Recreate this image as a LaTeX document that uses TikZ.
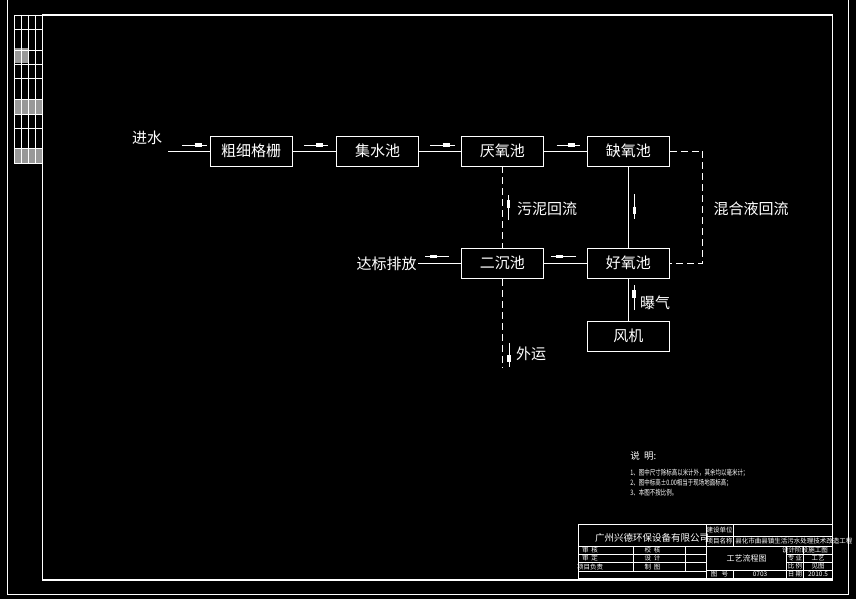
\documentclass[tikz,border=0pt]{standalone}
\usepackage{fontspec}
\setmainfont{Noto Sans CJK SC}
\usetikzlibrary{calc}
\newcommand\fmark[2]{\draw (#1) -- (#2); \draw[line width=3.4pt] ($(#1)!0.5!(#2)$) -- ($(#1)!0.8!(#2)$);}
\begin{document}
\begin{tikzpicture}[x=1pt,y=-1pt, line width=0.9pt, white,
  box/.style={draw=white, minimum width=82pt, minimum height=30pt, inner sep=0pt, font=\fontsize{15}{15}\selectfont, text=white},
  lbl/.style={font=\fontsize{15}{15}\selectfont, text=white, inner sep=0pt},
  dsh/.style={dash pattern=on 7pt off 4pt},
  ttl/.style={font=\fontsize{6.5}{6.5}\selectfont, inner sep=0pt, text=white},
  note/.style={font=\fontsize{7.5}{7.5}\selectfont, inner sep=0pt, text=white, anchor=west},
]
\fill[black] (0,0) rectangle (856,599);
\useasboundingbox (0,0) rectangle (856,599);
% frames
\draw[line width=0.9pt] (7.3,0) -- (7.3,594) -- (848,594) -- (848,0);
\draw[line width=1.8pt] (42.5,15) rectangle (832.5,580);
% left strip
\draw[line width=0.8pt] (14,15) rectangle (42.5,163.3);
\foreach \x in {21.7,28.7,35.7} \draw[line width=0.8pt] (\x,15) -- (\x,163.3);
\foreach \y in {29.7,50,64.3,78.7,99.3,114.3,128.3,148.7} \draw[line width=0.8pt] (14,\y) -- (42.5,\y);
\fill[white,opacity=0.6] (15,48) rectangle (28,63);
\fill[white,opacity=0.6] (15,99.5) rectangle (42,115);
\fill[white,opacity=0.6] (15,148.7) rectangle (42,163);

% process boxes
\node[box] (grille) at (251,151) {粗细格栅};
\node[box] (collect) at (377.5,151) {集水池};
\node[box] (anaer) at (502.3,151) {厌氧池};
\node[box] (anox) at (628.3,151) {缺氧池};
\node[box] (aer) at (628.3,263.3) {好氧池};
\node[box] (sec) at (502.3,263.3) {二沉池};
\node[box] (fan) at (628.3,336) {风机\hspace{16pt}};
\coordinate (in) at (168,151);
\coordinate (out) at (417.5,263.3);
\coordinate (ret) at (702.5,151);
\coordinate (haul) at (502.3,367);

% connectors
\draw (in) -- (grille.west);
\draw (grille.east) -- (collect.west);
\draw (collect.east) -- (anaer.west);
\draw (anaer.east) -- (anox.west);
\draw (anox.south) -- (aer.north);
\draw[dsh] (anox.east) -- (ret) |- (aer.east);
\draw[dsh] (anaer.south) -- (sec.north);
\draw (aer.west) -- (sec.east);
\draw (sec.west) -- (out);
\draw (fan.north) -- (aer.south);
\draw[dsh] (sec.south) -- (haul);

% flow marks
\fmark{182,145}{207,145}
\fmark{304,145}{328,145}
\fmark{430,145}{455,145}
\fmark{556.7,145}{580,145}
\fmark{634.3,194}{634.3,219}
\fmark{508.3,220}{508.3,195}
\fmark{576,256.7}{550.7,256.7}
\fmark{449,256.7}{425,256.7}
\fmark{634,310}{634,285}
\fmark{509,343}{509,367}

% labels
\node[lbl] (tin) at (147,138) {进水};
\node[lbl] (tsludge) at (547,209) {污泥回流};
\node[lbl] (tmix) at (751,209) {混合液回流};
\node[lbl,anchor=east] (tout) at (417,263.3) {达标排放};
\node[lbl] (tair) at (655,303) {曝气};
\node[lbl] (thaul) at (531,354) {外运};

% notes
\node[note,font=\fontsize{9.5}{9.5}\selectfont] (n0) at (630,455.7) {说\ \ 明:};
\node[note] (n1) at (630,472.7) {\scalebox{0.73}[1]{1、图中尺寸除标高以米计外，其余均以毫米计；}};
\node[note] (n2) at (630,482.7) {\scalebox{0.73}[1]{2、图中标高±0.00相当于现场地面标高；}};
\node[note] (n3) at (630,492.7) {\scalebox{0.73}[1]{3、本图不按比例。}};

% title block
\begin{scope}[line width=0.8pt]
\draw (578.3,524) rectangle (832.5,578.3);
\draw (706,536) -- (832.5,536);
\draw (578.3,546.7) -- (832.5,546.7);
\draw (578.3,554.3) -- (706,554.3);
\draw (578.3,562.5) -- (706,562.5);
\draw (578.3,571.5) -- (706,571.5);
\draw (786.7,554.3) -- (832.5,554.3);
\draw (786.7,562.3) -- (832.5,562.3);
\draw (706,570.5) -- (832.5,570.5);
\draw (706,524) -- (706,578.3);
\draw (733.3,524) -- (733.3,546.7);
\draw (733.3,570.5) -- (733.3,578.3);
\draw (786.7,546.7) -- (786.7,578.3);
\draw (803.3,546.7) -- (803.3,578.3);
\draw (633,546.7) -- (633,571.5);
\draw (685,546.7) -- (685,571.5);
\end{scope}
\node[ttl,font=\fontsize{9.5}{9.5}\selectfont] (company) at (652,537.7) {广州兴德环保设备有限公司};
\node[ttl] (t1) at (719.5,530) {建设单位};
\node[ttl] (t2) at (719.5,541.5) {项目名称};
\node[ttl,anchor=west] (t3) at (735,541.5) {县化市曲县镇生活污水处理技术改造工程};
\node[ttl] (t4) at (590,550) {审\ \ 核};
\node[ttl] (t5) at (652.5,550) {校\ \ 核};
\node[ttl] (t6) at (590,558.3) {审\ \ 定};
\node[ttl] (t7) at (652.5,558.3) {设\ \ 计};
\node[ttl] (t8) at (590,567) {项目负责};
\node[ttl] (t9) at (652.5,567) {制\ \ 图};
\node[ttl,font=\fontsize{8}{8}\selectfont] (t10) at (746.7,558.5) {工艺流程图};
\node[ttl] (t11) at (795,550.5) {设计阶段};
\node[ttl] (t12) at (818,550.5) {施工图};
\node[ttl] (t13) at (795,558.3) {专\ 业};
\node[ttl] (t14) at (818,558.3) {工艺};
\node[ttl] (t15) at (795,566.5) {比\ 例};
\node[ttl] (t16) at (818,566.5) {见图};
\node[ttl] (t17) at (719.5,574.5) {图\ \ \ 号};
\node[ttl] (t18) at (760,574.5) {0703};
\node[ttl] (t19) at (795,574.5) {日\ 期};
\node[ttl] (t20) at (818,574.5) {2010.5};
\end{tikzpicture}
\end{document}
